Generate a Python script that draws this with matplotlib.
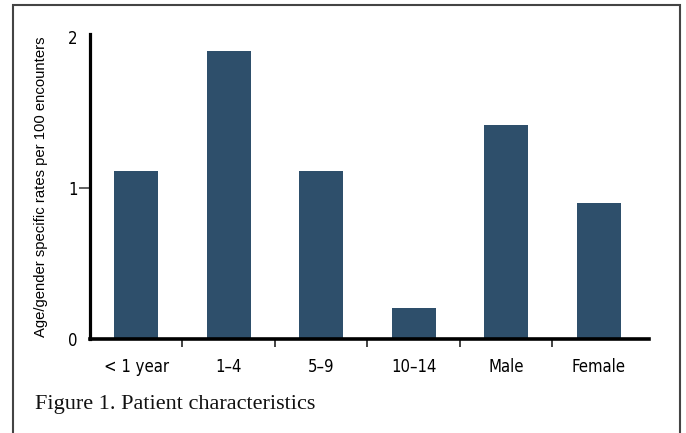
import matplotlib
matplotlib.use("Agg")
import matplotlib.pyplot as plt
from matplotlib.patches import Rectangle
from matplotlib import font_manager as fm

categories = ["< 1 year", "1\u20134", "5\u20139", "10\u201314", "Male", "Female"]
rates = [1.11, 1.91, 1.11, 0.205, 1.42, 0.90]
ytick_values = [0, 1, 2]
ytick_labels = ["0", "1", "2"]

W, H = 686, 433
fig = plt.figure(figsize=(W / 100, H / 100), dpi=100)

names = {f.name for f in fm.fontManager.ttflist}
cond_stretch = {(f.name, f.stretch) for f in fm.fontManager.ttflist}
if "Liberation Sans Narrow" in names:
    cond_kw = dict(family=["Liberation Sans Narrow", "DejaVu Sans"], fontstretch="normal")
elif ("DejaVu Sans", "condensed") in cond_stretch or ("DejaVu Sans", "semi-condensed") in cond_stretch:
    cond_kw = dict(family=["DejaVu Sans"], fontstretch="condensed")
else:
    cond_kw = dict(family=["Liberation Sans", "DejaVu Sans"])

left, right, bottom, top = 90, 649, 339, 34
ax = fig.add_axes([left / W, (H - bottom) / H, (right - left) / W, (bottom - top) / H])

x = list(range(len(categories)))
ax.bar(x, rates, width=0.476, color="#2e4f6b", zorder=2)

ax.set_xlim(-0.5, 5.546)
ax.set_ylim(0, 2.02)

for s in ["top", "right"]:
    ax.spines[s].set_visible(False)
ax.spines["left"].set_linewidth(2.3)
ax.spines["bottom"].set_linewidth(2.6)

ax.set_xticks([i + 0.5 for i in range(len(categories) - 1)])
ax.set_xticklabels([])
ax.tick_params(axis="x", which="major", direction="out", length=6, width=1.2, color="#222222")
ax.set_xticks(x, minor=True)
ax.set_xticklabels(categories, minor=True, fontsize=12, **cond_kw)
ax.tick_params(axis="x", which="minor", length=0, pad=14)

ax.set_yticks(ytick_values)
ax.set_yticklabels(ytick_labels, fontsize=12, **cond_kw)
ax.tick_params(axis="y", direction="out", length=8, width=1.2, color="#444444", pad=1)
yt = ax.yaxis.get_major_ticks()
yt[0].tick1line.set_visible(False)
yt[2].tick1line.set_visible(False)

ax.set_ylabel("Age/gender specific rates per 100 encounters",
              family=["Liberation Sans", "DejaVu Sans"], fontsize=10.7)
ax.yaxis.set_label_coords(-(90 - 48) / (right - left), 0.5)

fig.text(35 / W, 1 - 405 / H, "Figure 1. Patient characteristics",
         family=["Liberation Serif", "DejaVu Serif"], fontsize=16,
         va="center", ha="left", color="#111111")

fig.patches.append(Rectangle((13 / W, -0.05), (680 - 13) / W, 1.05 - 5 / H,
                             transform=fig.transFigure, fill=False,
                             edgecolor="#444444", linewidth=1.5))

fig.savefig("out.png", dpi=100)
